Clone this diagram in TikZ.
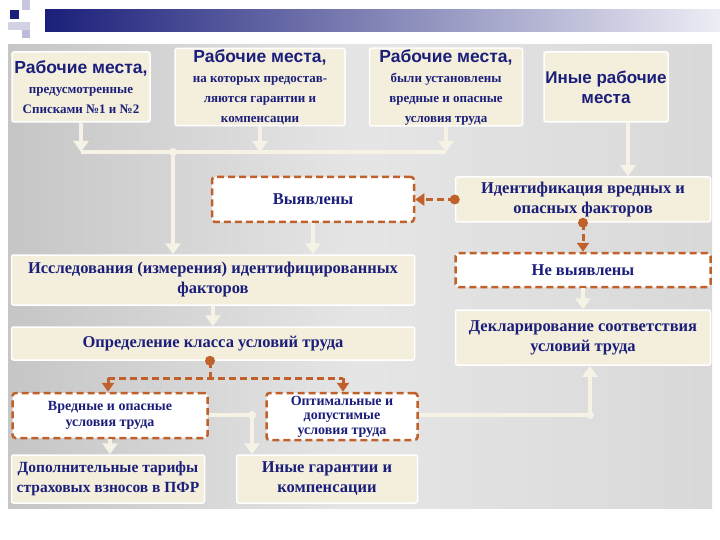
\documentclass[tikz,border=0pt]{standalone}
\usepackage{fontspec}
\setmainfont{Liberation Serif}
\newfontfamily\titlefont{Liberation Sans}
\usetikzlibrary{arrows.meta}
\definecolor{navy}{HTML}{1B1F7A}
\definecolor{cream}{HTML}{F4EEDD}
\definecolor{conn}{HTML}{F6F2E6}
\definecolor{orng}{HTML}{C0602A}
\begin{document}
\begin{tikzpicture}[x=1pt,y=-1pt,
  box/.style={draw=white,line width=1.5pt,fill=cream,rounded corners=2pt,text=navy,align=center,inner sep=1pt,font=\bfseries\fontsize{16.5}{20}\selectfont},
  dbox/.style={draw=orng,dashed,dash pattern=on 7pt off 4pt,line width=2.5pt,fill=white,rounded corners=3pt,text=navy,align=center,inner sep=1pt,font=\bfseries\fontsize{16.5}{20}\selectfont},
  wl/.style={draw=conn,line width=4pt},
  wa/.style={draw=conn,line width=4pt,-{Triangle[width=15pt,length=11pt]}},
  oa/.style={draw=orng,line width=3pt,dashed,dash pattern=on 7pt off 4pt,-{Triangle[width=12pt,length=9pt]}},
  ol/.style={draw=orng,line width=3pt,dashed,dash pattern=on 7pt off 4pt}]
\useasboundingbox (0,0) rectangle (720,540);
\fill[white] (0,0) rectangle (720,540);
% header
\shade[left color=navy,right color=navy!8] (45,10) rectangle (720,32);
\fill[navy!25] (22,0) rectangle (30,10);
\fill[navy!20] (8,22) rectangle (30,30);
\fill[navy!30] (22,30) rectangle (30,38);
\fill[navy] (10,10) rectangle (19,19);
% panel
\shade[left color=gray!45,right color=gray!30,middle color=gray!20] (8,45) rectangle (712,508);
% nodes
\node[box,minimum width=138,minimum height=70] (b1) at (81,87) {{\titlefont\fontsize{17.5}{18}\selectfont Рабочие места,}\\{\fontsize{13}{13}\selectfont предусмотренные}\\{\fontsize{13}{13}\selectfont Списками №1 и №2}};
\node[box,minimum width=170,minimum height=70] (b2) at (260,87) {{\titlefont\fontsize{17.5}{18}\selectfont Рабочие места,}\\{\fontsize{13}{13}\selectfont на которых предостав-}\\{\fontsize{13}{13}\selectfont ляются гарантии и}\\{\fontsize{13}{13}\selectfont компенсации}};
\node[box,minimum width=153,minimum height=70] (b3) at (446,87) {{\titlefont\fontsize{17.5}{18}\selectfont Рабочие места,}\\{\fontsize{13}{13}\selectfont были установлены}\\{\fontsize{13}{13}\selectfont вредные и опасные}\\{\fontsize{13}{13}\selectfont условия труда}};
\node[box,minimum width=124,minimum height=70] (b4) at (606,87) {{\titlefont\fontsize{17}{18}\selectfont Иные рабочие}\\{\titlefont\fontsize{17}{18}\selectfont места}};
\node[dbox,minimum width=202,minimum height=45] (vyav) at (313,199.5) {Выявлены};
\node[box,minimum width=255,minimum height=45] (ident) at (583,199.5) {Идентификация вредных и\\опасных факторов};
\node[box,minimum width=403,minimum height=50] (issl) at (213,280) {Исследования (измерения) идентифицированных\\факторов};
\node[dbox,minimum width=255,minimum height=34] (nevyav) at (583,270) {Не выявлены};
\node[box,minimum width=255,minimum height=55] (decl) at (583,337.5) {Декларирование соответствия\\условий труда};
\node[box,minimum width=403,minimum height=33] (opred) at (213,343.5) {Определение класса условий труда};
\node[dbox,minimum width=195,minimum height=45,font=\bfseries\fontsize{14}{16}\selectfont] (vred) at (110,415.5) {Вредные и опасные\\условия труда};
\node[dbox,minimum width=151,minimum height=47,font=\bfseries\fontsize{14}{14.5}\selectfont] (opt) at (342,416.5) {Оптимальные и\\допустимые\\условия труда};
\node[box,minimum width=193,minimum height=48,font=\bfseries\fontsize{15.5}{20}\selectfont] (dop) at (108,479) {Дополнительные тарифы\\страховых взносов в ПФР};
\node[box,minimum width=181,minimum height=48] (inye) at (327,479) {Иные гарантии и\\компенсации};
% bus
\coordinate (busL) at (81,152);
\coordinate (busR) at (446,152);
\coordinate (trunk) at (173,152);
\coordinate (b4x) at (628,122);
\draw[wl] (busL) -- (busR);
\draw[wa] (b1.south) -- (b1.south |- busL);
\draw[wa] (b2.south) -- (b2.south |- busL);
\draw[wa] (b3.south) -- (b3.south |- busL);
\draw[wa] (trunk) -- (trunk |- issl.north);
\fill[conn] (trunk) circle (4);
\draw[wa] (b4x) -- (b4x |- ident.north);
\draw[wa] (vyav.south) -- (vyav.south |- issl.north);
\draw[oa] (ident.west) -- (vyav.east);
\fill[orng] (ident.west) circle (5);
\draw[oa] (ident.south) -- (nevyav.north);
\fill[orng] (ident.south) circle (5);
\draw[wa] (nevyav.south) -- (decl.north);
\draw[wa] (issl.south) -- (opred.north);
% class branching
\coordinate (cl) at (108,378);
\coordinate (cr) at (343,378);
\coordinate (cm) at (210,378);
\draw[ol] (opred.south -| cm) -- (cm);
\fill[orng] (opred.south -| cm) circle (5);
\draw[ol] (cl) -- (cr);
\draw[oa] (cl) -- (cl |- vred.north);
\draw[oa] (cr) -- (cr |- opt.north);
% lower connectors
\coordinate (vj) at (252,415);
\draw[wl] (vred.east |- vj) -- (vj);
\draw[wa] (vj) -- (vj |- inye.north);
\fill[conn] (vj) circle (4);
\draw[wa] (vred.south) -- (vred.south |- dop.north);
\coordinate (oj) at (590,415);
\draw[wl] (opt.east |- oj) -- (oj);
\draw[wa] (oj) -- (oj |- decl.south);
\fill[conn] (oj) circle (4);
\end{tikzpicture}
\end{document}
